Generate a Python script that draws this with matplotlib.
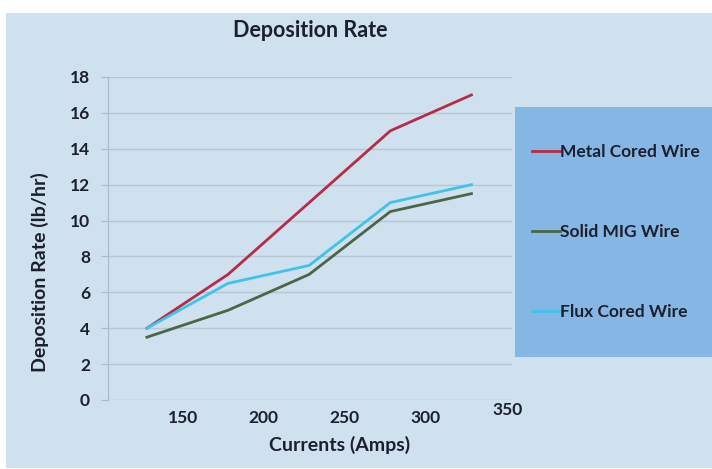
import matplotlib
matplotlib.use("Agg")
import matplotlib.pyplot as plt
from matplotlib.patches import Rectangle
from matplotlib.transforms import ScaledTranslation

plt.rcParams['font.family'] = ['Lato', 'DejaVu Sans']

# Deposition rate (lb/hr) against welding current (Amps)
currents = [128, 178, 228, 278, 328]
metal_cored = [4, 7, 11, 15, 17]
solid_mig = [3.5, 5, 7, 10.5, 11.5]
flux_cored = [4, 6.5, 7.5, 11, 12]
series_names = ['Metal Cored Wire', 'Solid MIG Wire', 'Flux Cored Wire']
series_colors = ['#b92a45', '#4b6647', '#3ec3ec']
x_ticks = [150, 200, 250, 300]
y_ticks = [0, 2, 4, 6, 8, 10, 12, 14, 16, 18]

W, H = 712, 469
bg = '#cfe0ee'
text_col = '#1b1f2e'

fig = plt.figure(figsize=(W / 100, H / 100), dpi=100)
fig.patch.set_facecolor('white')

# chart area background
fig.patches.append(Rectangle((6 / W, 1 / H), (W - 6) / W, (H - 14) / H,
                             transform=fig.transFigure, facecolor=bg,
                             edgecolor='none', zorder=-2))

ax = fig.add_axes([108 / W, 1 - 400 / H, 404 / W, 323 / H])
ax.set_facecolor('none')
ax.set_zorder(2)

lines = []
for vals, name, col in zip([metal_cored, solid_mig, flux_cored], series_names, series_colors):
    ln, = ax.plot(currents, vals, color=col, lw=2.0, label=name, solid_joinstyle='round')
    lines.append(ln)

ax.set_xlim(104, 353)
ax.set_ylim(0, 18)
ax.set_yticks(y_ticks)
ax.set_xticks(x_ticks)
ax.yaxis.grid(True, color='#b5c6d4', lw=1.0)
ax.set_axisbelow(True)
for side in ['top', 'right', 'bottom']:
    ax.spines[side].set_visible(False)
ax.spines['left'].set_color('#a9b9c6')
ax.tick_params(axis='y', length=5, color='#a9b9c6', labelsize=12.5, labelcolor=text_col, pad=8)
ax.tick_params(axis='x', length=0, labelsize=12.5, labelcolor=text_col, pad=7)
for lbl in ax.get_xticklabels() + ax.get_yticklabels():
    lbl.set_fontweight('bold')

# last x label sits slightly raised at the end of the axis
t350 = ax.text(350, 0, '350', ha='center', va='top', fontsize=12.5,
               fontweight='bold', color=text_col)
t350.set_transform(ax.get_xaxis_transform() +
                   ScaledTranslation(0, -2 / 100, fig.dpi_scale_trans))

fig.text(310 / W, 1 - 30 / H, 'Deposition Rate', ha='center', va='center',
         fontsize=15.5, fontweight='bold', color=text_col)
fig.text(340 / W, 1 - 445 / H, 'Currents (Amps)', ha='center', va='center',
         fontsize=14, fontweight='bold', color=text_col)
fig.text(40 / W, 1 - 272 / H, 'Deposition Rate (lb/hr)', ha='center', va='center',
         rotation=90, fontsize=14, fontweight='bold', color=text_col)

# legend panel
fig.patches.append(Rectangle((515 / W, 1 - 357 / H), (W - 515) / W, 250 / H,
                             transform=fig.transFigure, facecolor='#86b6e3',
                             edgecolor='none', zorder=-1))
leg = fig.legend(handles=lines, loc='center left', bbox_to_anchor=(532 / W, 1 - 232 / H),
                 frameon=False, fontsize=12.5, labelspacing=3.7, handlelength=1.6,
                 handletextpad=0.0, borderaxespad=0, borderpad=0)
for t in leg.get_texts():
    t.set_color(text_col)
    t.set_fontweight('bold')
for h in leg.legend_handles:
    h.set_linewidth(2.0)

fig.savefig('out.png', dpi=100)
